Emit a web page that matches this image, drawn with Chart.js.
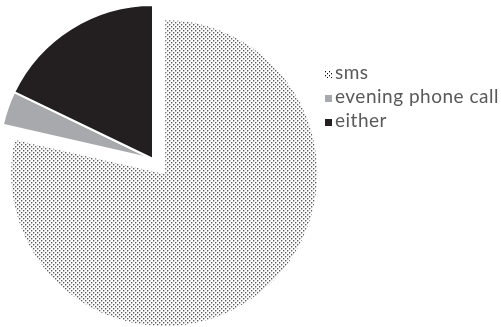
<!DOCTYPE html>
<html>
<head>
<meta charset="utf-8">
<script src="https://cdn.jsdelivr.net/npm/chart.js@4"></script>
<style>
  html, body { margin: 0; padding: 0; background: #fff; }
  #wrap { position: relative; width: 501px; height: 327px; overflow: hidden; }
  #pie { position: absolute; left: 0; top: 0; }
  #legend { position: absolute; left: 325px; top: 60px; font-family: Lato, "Open Sans", sans-serif; font-size: 19px; letter-spacing: 0.5px; color: #595959; }
  .item { position: relative; height: 24px; line-height: 24px; white-space: nowrap; }
  .swatch { position: absolute; left: 0; top: 11px; width: 7px; height: 7px; }
  .label { position: absolute; left: 10px; top: 0; }
</style>
</head>
<body>
<div id="wrap">
  <canvas id="pie" width="501" height="327"></canvas>
  <div id="legend"></div>
</div>
<script>
// Preferred contact channel, number of answers
const categories = ['sms', 'evening phone call', 'either'];
const responses = [22, 1, 5];

// Sparse staggered dot tile used as the fill of the "sms" slice
function makeDotTile() {
  const c = document.createElement('canvas');
  c.width = 4; c.height = 4;
  const g = c.getContext('2d');
  g.fillStyle = '#0a0a0a';
  g.fillRect(0, 0, 1, 1);
  g.fillRect(2, 2, 1, 1);
  g.fillStyle = '#b4b4b4';
  g.fillRect(0, 1, 1, 1);
  g.fillRect(2, 3, 1, 1);
  return c;
}

const canvas = document.getElementById('pie');
const tile = makeDotTile();
const dotFill = canvas.getContext('2d').createPattern(tile, 'repeat');
const sliceColors = [dotFill, '#a7a9ac', '#231f20'];
const swatchCss = ['url(' + tile.toDataURL() + ')', '#a7a9ac', '#231f20'];

// Pulls one slice out along its bisector without enlarging it
const explodeSlice = {
  id: 'explodeSlice',
  afterDatasetsUpdate(chart, args, opts) {
    const arc = chart.getDatasetMeta(0).data[opts.index];
    if (!arc || arc._exploded) return;
    const baseDraw = Object.getPrototypeOf(arc).draw;
    arc.draw = function (ctx, area) {
      const mid = (this.startAngle + this.endAngle) / 2;
      ctx.save();
      ctx.translate(Math.cos(mid) * opts.distance, Math.sin(mid) * opts.distance);
      baseDraw.call(this, ctx, area);
      ctx.restore();
    };
    arc._exploded = true;
  }
};

new Chart(canvas, {
  type: 'pie',
  data: {
    labels: categories,
    datasets: [{
      data: responses,
      backgroundColor: sliceColors,
      borderColor: '#ffffff',
      borderWidth: 2
    }]
  },
  options: {
    responsive: false,
    animation: false,
    events: [],
    radius: 154,
    layout: { padding: { left: 0, top: 0, right: 195, bottom: 9 } },
    plugins: {
      legend: { display: false },
      tooltip: { enabled: false },
      explodeSlice: { index: 0, distance: 18 }
    }
  },
  plugins: [explodeSlice]
});

// Legend built from the same categories
const legend = document.getElementById('legend');
categories.forEach((name, i) => {
  const row = document.createElement('div');
  row.className = 'item';
  const sw = document.createElement('span');
  sw.className = 'swatch';
  sw.style.background = swatchCss[i];
  const lab = document.createElement('span');
  lab.className = 'label';
  lab.textContent = name;
  row.appendChild(sw);
  row.appendChild(lab);
  legend.appendChild(row);
});
</script>
</body>
</html>
